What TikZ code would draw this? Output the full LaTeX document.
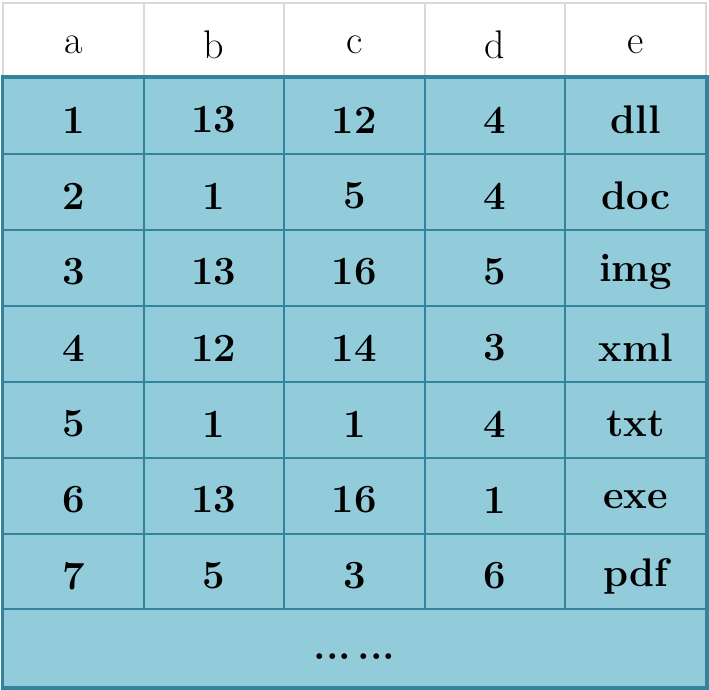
\documentclass[tikz,border=0pt]{standalone}
\usepackage{tikz}
\definecolor{cellblue}{HTML}{92CCDB}
\definecolor{celledge}{HTML}{31849B}
\definecolor{headgray}{HTML}{D9D9D9}
\tikzset{
    bigfont/.style={font=\fontsize{40}{48}\selectfont},
    headcell/.style={draw=headgray, line width=2pt, fill=white, minimum width=140.6pt, minimum height=75pt, inner sep=0pt},
    datacell/.style={draw=celledge, line width=2pt, fill=cellblue, minimum width=140.6pt, minimum height=76pt, inner sep=0pt},
    headtext/.style={bigfont},
    datatext/.style={bigfont, font=\fontsize{40}{48}\selectfont\bfseries},
}

\begin{document}
\begin{tikzpicture}[x=1pt, y=-1pt]
    \useasboundingbox (0,0) rectangle (709,690);
    % header row
    \foreach \h [count=\c] in {a,b,c,d,e} {
        \node[headcell] (h\c) at ({3+140.6*(\c-0.5)}, 40.5) {};
        \node[headtext] (ht\c) at ([yshift=-4pt]h\c.center) {\h};
    }
    % data rows
    \foreach \row [count=\r] in {{1,13,12,4,dll},{2,1,5,4,doc},{3,13,16,5,img},{4,12,14,3,xml},{5,1,1,4,txt},{6,13,16,1,exe},{7,5,3,6,pdf}} {
        \foreach \val [count=\c] in \row {
            \node[datacell] (r\r c\c) at ({3+140.6*(\c-0.5)}, {78+76*(\r-0.5)}) {};
            \node[datatext] (t\r c\c) at ([yshift=-4pt]r\r c\c.center) {\val};
        }
    }
    % last row
    \node[datacell, minimum width=703pt, minimum height=78pt] (more) at (354.5, 648) {};
    \node[datatext] (moretext) at ([yshift=-9pt]more.center) {...\,...};
    \draw[celledge, line width=3pt] (r1c1.north west) rectangle (more.south east);
\end{tikzpicture}
\end{document}
